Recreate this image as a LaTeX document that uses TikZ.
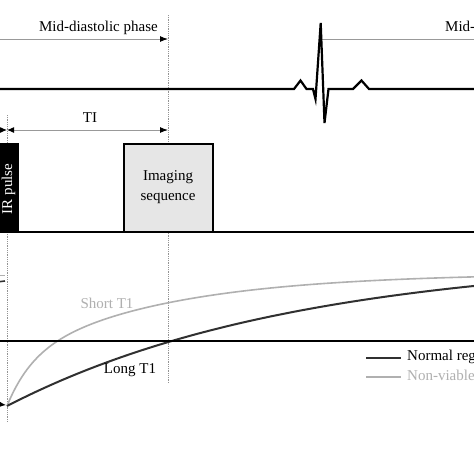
\documentclass[tikz,border=0pt]{standalone}
\usepackage{fontspec}
\setmainfont{Liberation Serif}
\usetikzlibrary{arrows.meta}
\definecolor{gline}{HTML}{999999}
\definecolor{lightcurve}{HTML}{B0B0B0}
\definecolor{darkcurve}{HTML}{303030}
\definecolor{boxfill}{HTML}{E6E6E6}
\tikzset{
  axisline/.style={line width=2pt, black},
  guide/.style={gray!85, line width=0.6pt, dash pattern=on 0.9pt off 0.9pt},
  dimline/.style={gline, line width=1pt},
  tip/.style={-{Latex[length=8pt,width=6pt,color=black]}},
  lbl/.style={font=\fontsize{15}{17}\selectfont, inner sep=0pt},
  curvedark/.style={darkcurve, line width=2pt},
  curvelight/.style={lightcurve, line width=1.6pt},
}
\begin{document}
\begin{tikzpicture}[x=1pt,y=-1pt]
\useasboundingbox (0,0) rectangle (474,474);
\clip (0,0) rectangle (474,474);
\fill[white] (0,0) rectangle (474,474);
% guide lines
\coordinate (g1top) at (168,15);
\coordinate (g1bot) at (168,383);
\coordinate (g0top) at (7,115);
\coordinate (g0bot) at (7,422);
\draw[guide] (g1top) -- (g1bot);
\draw[guide] (g0top) -- (g0bot);
% top labels and arrows
\node[lbl, anchor=east] (mdp) at (158,28) {Mid-diastolic phase};
\node[lbl, anchor=west] (mdp2) at (445,28) {Mid-diastolic phase};
\coordinate (a1s) at (-5,39);
\coordinate (a1e) at (168,39);
\draw[dimline, tip] (a1s) -- (a1e);
\coordinate (a2s) at (322,39);
\coordinate (a2e) at (490,39);
\draw[dimline] (a2s) -- (a2e);
% ECG
\draw[axisline, line width=2.2pt, line join=miter] (0,89) -- (294,89) -- (300.5,80.5) -- (306.5,89) -- (313,89)
  -- (315.5,99) -- (320.7,23) -- (324.5,123) -- (328.5,89) -- (353,89) -- (361.5,80.5)
  -- (369,89) -- (474,89);
% TI dimension
\node[lbl] (ti) at (90,118) {TI};
\coordinate (tiL) at (7,130);
\coordinate (tiR) at (168,130);
\coordinate (tiO) at (-12,130);
\draw[dimline, -{Latex[length=7pt,width=6pt,color=black]}] (tiO) -- (tiL);
\draw[dimline, {Latex[length=7pt,width=6pt,color=black]}-{Latex[length=8pt,width=6pt,color=black]}] (tiL) -- (tiR);
% pulses
\fill[black] (-20,142.5) rectangle (19,232);
\node[lbl, rotate=90, text=white] (ir) at (8.5,189) {IR pulse};
\node[draw=black, line width=2pt, fill=boxfill, minimum width=89pt, minimum height=88pt,
  inner sep=0pt, align=center, font=\fontsize{15}{20}\selectfont] (img) at (168,187.5) {Imaging\\sequence};
\draw[axisline] (0,232) -- (474,232);
% recovery curves
\draw[curvelight] plot[domain=7:480, samples=160, smooth]
  (\x, {406-46*(1-exp(-(\x-7)/24.6))-87*(1-exp(-(\x-7)/150))});
\draw[curvedark] plot[domain=7:480, samples=100, smooth]
  (\x, {406-150*(1-exp(-(\x-7)/290))});
\draw[axisline] (0,341) -- (474,341);
\node[lbl, text=lightcurve] (st1) at (107,303) {Short T1};
\node[lbl] (lt1) at (130,370) {Long T1};
% left clipped marks
\coordinate (m1a) at (-3,282);
\coordinate (m1b) at (5,281);
\draw[darkcurve, line width=1.6pt] (m1a) -- (m1b);
\coordinate (m2a) at (-3,275.5);
\coordinate (m2b) at (5,275.5);
\draw[lightcurve, line width=1.2pt] (m2a) -- (m2b);
\coordinate (m3a) at (-14,403);
\coordinate (m3b) at (6,405);
\draw[darkcurve, line width=1pt, -{Latex[length=7pt,width=6pt,color=black]}] (m3a) -- (m3b);
% legend
\coordinate (l1a) at (366,358);
\coordinate (l1b) at (401,358);
\draw[curvedark, line width=2.2pt] (l1a) -- (l1b);
\node[lbl, anchor=west] (leg1) at (407,357) {Normal region};
\coordinate (l2a) at (366,377);
\coordinate (l2b) at (401,377);
\draw[curvelight, line width=2pt] (l2a) -- (l2b);
\node[lbl, anchor=west, text=lightcurve] (leg2) at (407,377) {Non-viable region};
\end{tikzpicture}
\end{document}
